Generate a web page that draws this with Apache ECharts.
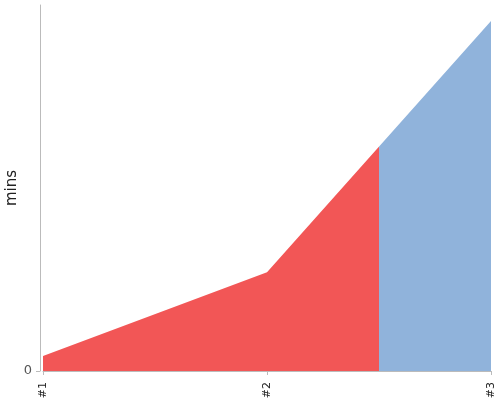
<!DOCTYPE html>
<html>
<head>
<meta charset="utf-8">
<title>mins</title>
<script src="https://cdn.jsdelivr.net/npm/echarts@6/dist/echarts.min.js"></script>
<style>
  html, body { margin: 0; padding: 0; background: #fff; }
  #main { width: 500px; height: 400px; }
</style>
</head>
<body>
<div id="main"></div>
<script>
// chart data
var categories = ['#1', '#2', '#3'];
var minsValues = [4.1, 27.0, 95.6];
var yTicks = [0];

var red = '#f25656';
var blue = '#90b3db';

var myChart = echarts.init(document.getElementById('main'));

var option = {
    animation: false,
    textStyle: { fontFamily: 'DejaVu Sans' },
    grid: { left: 43, right: 9, top: 5, bottom: 29, outerBoundsMode: 'none', containLabel: false },
    xAxis: {
        type: 'category',
        boundaryGap: false,
        data: categories,
        offset: 3,
        axisLine: { lineStyle: { color: '#bbbbbb' } },
        axisTick: { length: 4, lineStyle: { color: '#bbbbbb' } },
        axisLabel: { rotate: 90, color: '#222', fontSize: 11 }
    },
    yAxis: {
        type: 'value',
        min: 0,
        max: 100,
        offset: 3,
        name: 'mins',
        nameLocation: 'middle',
        nameGap: 20,
        nameMoveOverlap: false,
        nameTextStyle: { fontSize: 15, color: '#222' },
        axisLine: { show: true, lineStyle: { color: '#bbbbbb' } },
        axisTick: { show: true, length: 4, customValues: yTicks, lineStyle: { color: '#bbbbbb' } },
        axisLabel: { customValues: yTicks, color: '#555', fontSize: 13 },
        splitLine: { show: false }
    },
    series: [{
        type: 'line',
        data: minsValues,
        symbol: 'none',
        lineStyle: { width: 0 },
        // red up to halfway between #2 and #3, blue after
        areaStyle: {
            opacity: 1,
            color: new echarts.graphic.LinearGradient(0, 0, 1, 0, [
                { offset: 0, color: red },
                { offset: 0.75, color: red },
                { offset: 0.75, color: blue },
                { offset: 1, color: blue }
            ])
        }
    }]
};

myChart.setOption(option);
</script>
</body>
</html>
